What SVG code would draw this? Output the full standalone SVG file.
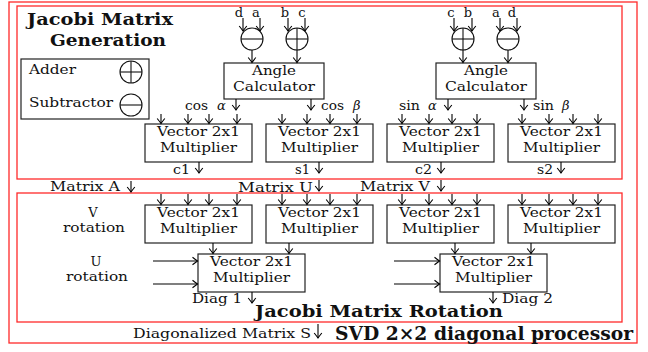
<svg xmlns="http://www.w3.org/2000/svg" width="648" height="352" viewBox="0 0 648 352">
<style>
.frame{fill:none;stroke:#ff2a2a;stroke-width:1.3}
.box{fill:#fff;stroke:#222;stroke-width:1.2}
.op{fill:#fff;stroke:#111;stroke-width:1.1}
.opl{stroke:#111;stroke-width:1.1}
.t{font-family:"DejaVu Serif","Liberation Serif",serif;font-size:13px;fill:#111}
.s{font-family:"DejaVu Serif","Liberation Serif",serif;font-size:12.5px;fill:#111}
.m{font-family:"DejaVu Serif","Liberation Serif",serif;font-size:13px;font-style:italic;fill:#111}
.b{font-family:"DejaVu Serif","Liberation Serif",serif;font-size:16.5px;font-weight:bold;fill:#111}
.c{text-anchor:middle}
.w{stroke:#000;stroke-width:1.1;fill:none;marker-end:url(#ah)}
</style>
<defs>
<marker id="ah" viewBox="-6 -5 7 10" refX="0" refY="0" markerWidth="7" markerHeight="10" markerUnits="userSpaceOnUse" orient="auto">
<path d="M-5,-3.8 Q-1.5,-1 0,0 Q-1.5,1 -5,3.8" fill="none" stroke="#000" stroke-width="1.1"/>
</marker>
<g id="vm">
<rect class="box" x="0" y="0" width="107" height="38"/>
<text class="t c" x="53.5" y="12" textLength="83" lengthAdjust="spacingAndGlyphs">Vector 2x1</text>
<text class="t c" x="53.5" y="28" textLength="77" lengthAdjust="spacingAndGlyphs">Multiplier</text>
</g>
</defs>
<rect width="648" height="352" fill="#fff"/>

<g id="frames">
<rect class="frame" x="9" y="2" width="628" height="341"/>
<rect class="frame" x="17" y="6" width="605" height="173"/>
<rect class="frame" x="17" y="193" width="605" height="129"/>
</g>

<g id="titles">
<text class="b" x="27" y="25" textLength="146" lengthAdjust="spacingAndGlyphs">Jacobi Matrix</text>
<text class="b" x="50" y="46" textLength="116" lengthAdjust="spacingAndGlyphs">Generation</text>
<text class="b" x="255" y="317" textLength="248" lengthAdjust="spacingAndGlyphs">Jacobi Matrix Rotation</text>
<text class="b" x="335" y="340" style="font-size:18px" textLength="298" lengthAdjust="spacingAndGlyphs">SVD 2×2 diagonal processor</text>
</g>

<g id="legend">
<rect class="box" x="21" y="59" width="128" height="60"/>
<text class="t" x="29" y="74" textLength="47" lengthAdjust="spacingAndGlyphs">Adder</text>
<text class="t" x="29" y="107" textLength="84" lengthAdjust="spacingAndGlyphs">Subtractor</text>
<circle class="op" cx="131" cy="72" r="11"/>
<line class="opl" x1="120" y1="72" x2="142" y2="72"/>
<line class="opl" x1="131" y1="61" x2="131" y2="83"/>
<circle class="op" cx="131" cy="105" r="11"/>
<line class="opl" x1="120" y1="105" x2="142" y2="105"/>
</g>

<g id="sub1">
<circle class="op" cx="252" cy="39" r="11"/>
<line class="opl" x1="241" y1="39" x2="263" y2="39"/>
</g>
<g id="add1">
<circle class="op" cx="297" cy="39" r="11"/>
<line class="opl" x1="286" y1="39" x2="308" y2="39"/>
<line class="opl" x1="297" y1="28" x2="297" y2="50"/>
</g>
<g id="add2">
<circle class="op" cx="463" cy="39" r="11"/>
<line class="opl" x1="452" y1="39" x2="474" y2="39"/>
<line class="opl" x1="463" y1="28" x2="463" y2="50"/>
</g>
<g id="sub2">
<circle class="op" cx="508" cy="39" r="11"/>
<line class="opl" x1="497" y1="39" x2="519" y2="39"/>
</g>

<g id="inputs">
<text class="t c" x="239" y="17">d</text>
<text class="t c" x="256" y="17">a</text>
<text class="t c" x="285" y="17">b</text>
<text class="t c" x="302" y="17">c</text>
<text class="t c" x="451" y="17">c</text>
<text class="t c" x="468" y="17">b</text>
<text class="t c" x="496" y="17">a</text>
<text class="t c" x="512" y="17">d</text>
</g>

<g id="angle1">
<rect class="box" x="224" y="63" width="100" height="36"/>
<text class="t c" x="274" y="75" textLength="44" lengthAdjust="spacingAndGlyphs">Angle</text>
<text class="t c" x="274" y="91" textLength="82" lengthAdjust="spacingAndGlyphs">Calculator</text>
</g>
<g id="angle2">
<rect class="box" x="436" y="63" width="100" height="36"/>
<text class="t c" x="486" y="75" textLength="44" lengthAdjust="spacingAndGlyphs">Angle</text>
<text class="t c" x="486" y="91" textLength="82" lengthAdjust="spacingAndGlyphs">Calculator</text>
</g>

<g id="trig">
<text class="s" x="185" y="110" textLength="23" lengthAdjust="spacingAndGlyphs">cos</text><text class="m" x="217" y="110">α</text>
<text class="s" x="321" y="110" textLength="23" lengthAdjust="spacingAndGlyphs">cos</text><text class="m" x="353" y="110">β</text>
<text class="s" x="399" y="110" textLength="21" lengthAdjust="spacingAndGlyphs">sin</text><text class="m" x="428" y="110">α</text>
<text class="s" x="533" y="110" textLength="21" lengthAdjust="spacingAndGlyphs">sin</text><text class="m" x="562" y="110">β</text>
</g>

<g id="vmC1"><use href="#vm" x="145" y="124"/></g>
<g id="vmS1"><use href="#vm" x="266" y="124"/></g>
<g id="vmC2"><use href="#vm" x="387" y="124"/></g>
<g id="vmS2"><use href="#vm" x="508" y="124"/></g>

<g id="outs">
<text class="s" x="173" y="174" textLength="17" lengthAdjust="spacingAndGlyphs">c1</text>
<text class="s" x="295" y="174" textLength="15" lengthAdjust="spacingAndGlyphs">s1</text>
<text class="s" x="415" y="174" textLength="17" lengthAdjust="spacingAndGlyphs">c2</text>
<text class="s" x="537" y="174" textLength="16" lengthAdjust="spacingAndGlyphs">s2</text>
<text class="s" x="50" y="191" textLength="70" lengthAdjust="spacingAndGlyphs">Matrix A</text>
<text class="s" x="238" y="192" textLength="75" lengthAdjust="spacingAndGlyphs">Matrix U</text>
<text class="s" x="360" y="191" textLength="70" lengthAdjust="spacingAndGlyphs">Matrix V</text>
</g>

<g id="rotLabels">
<text class="t c" x="93" y="217">V</text>
<text class="t" x="63" y="232" textLength="62" lengthAdjust="spacingAndGlyphs">rotation</text>
<text class="t c" x="96" y="266">U</text>
<text class="t" x="66" y="281" textLength="62" lengthAdjust="spacingAndGlyphs">rotation</text>
</g>

<g id="vmV1"><use href="#vm" x="145" y="205"/></g>
<g id="vmV2"><use href="#vm" x="266" y="205"/></g>
<g id="vmV3"><use href="#vm" x="387" y="205"/></g>
<g id="vmV4"><use href="#vm" x="508" y="205"/></g>
<g id="vmU1"><use href="#vm" x="198" y="254"/></g>
<g id="vmU2"><use href="#vm" x="440" y="254"/></g>

<g id="bottomLabels">
<text class="s" x="192" y="303" textLength="50" lengthAdjust="spacingAndGlyphs">Diag 1</text>
<text class="s" x="502" y="303" textLength="51" lengthAdjust="spacingAndGlyphs">Diag 2</text>
<text class="s" x="133" y="338" textLength="178" lengthAdjust="spacingAndGlyphs">Diagonalized Matrix S</text>
</g>

<g id="connectors">
<line class="w" x1="243" y1="18" x2="243" y2="31"/>
<line class="w" x1="260" y1="18" x2="260" y2="31"/>
<line class="w" x1="288" y1="18" x2="288" y2="31"/>
<line class="w" x1="305" y1="18" x2="305" y2="31"/>
<line class="w" x1="454" y1="18" x2="454" y2="31"/>
<line class="w" x1="472" y1="18" x2="472" y2="31"/>
<line class="w" x1="500" y1="18" x2="500" y2="31"/>
<line class="w" x1="517" y1="18" x2="517" y2="31"/>
<line class="w" x1="252" y1="50" x2="252" y2="62.5"/>
<line class="w" x1="297" y1="50" x2="297" y2="62.5"/>
<line class="w" x1="463" y1="50" x2="463" y2="62.5"/>
<line class="w" x1="508" y1="50" x2="508" y2="62.5"/>
<line class="w" x1="236" y1="99" x2="236" y2="110"/>
<line class="w" x1="311" y1="99" x2="311" y2="110"/>
<line class="w" x1="448" y1="99" x2="448" y2="110"/>
<line class="w" x1="524" y1="99" x2="524" y2="110"/>
<line class="w" x1="161" y1="114" x2="161" y2="123.5"/>
<line class="w" x1="188" y1="114" x2="188" y2="123.5"/>
<line class="w" x1="209" y1="114" x2="209" y2="123.5"/>
<line class="w" x1="237" y1="114" x2="237" y2="123.5"/>
<line class="w" x1="282" y1="114" x2="282" y2="123.5"/>
<line class="w" x1="307" y1="114" x2="307" y2="123.5"/>
<line class="w" x1="330" y1="114" x2="330" y2="123.5"/>
<line class="w" x1="357" y1="114" x2="357" y2="123.5"/>
<line class="w" x1="402" y1="114" x2="402" y2="123.5"/>
<line class="w" x1="429" y1="114" x2="429" y2="123.5"/>
<line class="w" x1="452" y1="114" x2="452" y2="123.5"/>
<line class="w" x1="477" y1="114" x2="477" y2="123.5"/>
<line class="w" x1="522" y1="114" x2="522" y2="123.5"/>
<line class="w" x1="549" y1="114" x2="549" y2="123.5"/>
<line class="w" x1="573" y1="114" x2="573" y2="123.5"/>
<line class="w" x1="598" y1="114" x2="598" y2="123.5"/>
<line class="w" x1="199" y1="162" x2="199" y2="173"/>
<line class="w" x1="319" y1="162" x2="319" y2="173"/>
<line class="w" x1="441" y1="162" x2="441" y2="173"/>
<line class="w" x1="561" y1="162" x2="561" y2="173"/>
<line class="w" x1="131" y1="181" x2="131" y2="192"/>
<line class="w" x1="319" y1="180" x2="319" y2="191"/>
<line class="w" x1="441" y1="180" x2="441" y2="191"/>
<line class="w" x1="161" y1="194" x2="161" y2="204.5"/>
<line class="w" x1="188" y1="194" x2="188" y2="204.5"/>
<line class="w" x1="209" y1="194" x2="209" y2="204.5"/>
<line class="w" x1="237" y1="194" x2="237" y2="204.5"/>
<line class="w" x1="282" y1="194" x2="282" y2="204.5"/>
<line class="w" x1="307" y1="194" x2="307" y2="204.5"/>
<line class="w" x1="330" y1="194" x2="330" y2="204.5"/>
<line class="w" x1="357" y1="194" x2="357" y2="204.5"/>
<line class="w" x1="402" y1="194" x2="402" y2="204.5"/>
<line class="w" x1="429" y1="194" x2="429" y2="204.5"/>
<line class="w" x1="452" y1="194" x2="452" y2="204.5"/>
<line class="w" x1="477" y1="194" x2="477" y2="204.5"/>
<line class="w" x1="522" y1="194" x2="522" y2="204.5"/>
<line class="w" x1="549" y1="194" x2="549" y2="204.5"/>
<line class="w" x1="573" y1="194" x2="573" y2="204.5"/>
<line class="w" x1="598" y1="194" x2="598" y2="204.5"/>
<line class="w" x1="213" y1="243" x2="213" y2="253.5"/>
<line class="w" x1="289" y1="243" x2="289" y2="253.5"/>
<line class="w" x1="455" y1="243" x2="455" y2="253.5"/>
<line class="w" x1="531" y1="243" x2="531" y2="253.5"/>
<line class="w" x1="153" y1="261" x2="197.5" y2="261"/>
<line class="w" x1="153" y1="284" x2="197.5" y2="284"/>
<line class="w" x1="394" y1="261" x2="439.5" y2="261"/>
<line class="w" x1="394" y1="284" x2="439.5" y2="284"/>
<line class="w" x1="252" y1="292" x2="252" y2="303"/>
<line class="w" x1="493" y1="292" x2="493" y2="303"/>
<line class="w" x1="318" y1="324" x2="318" y2="338"/>
</g>
</svg>
